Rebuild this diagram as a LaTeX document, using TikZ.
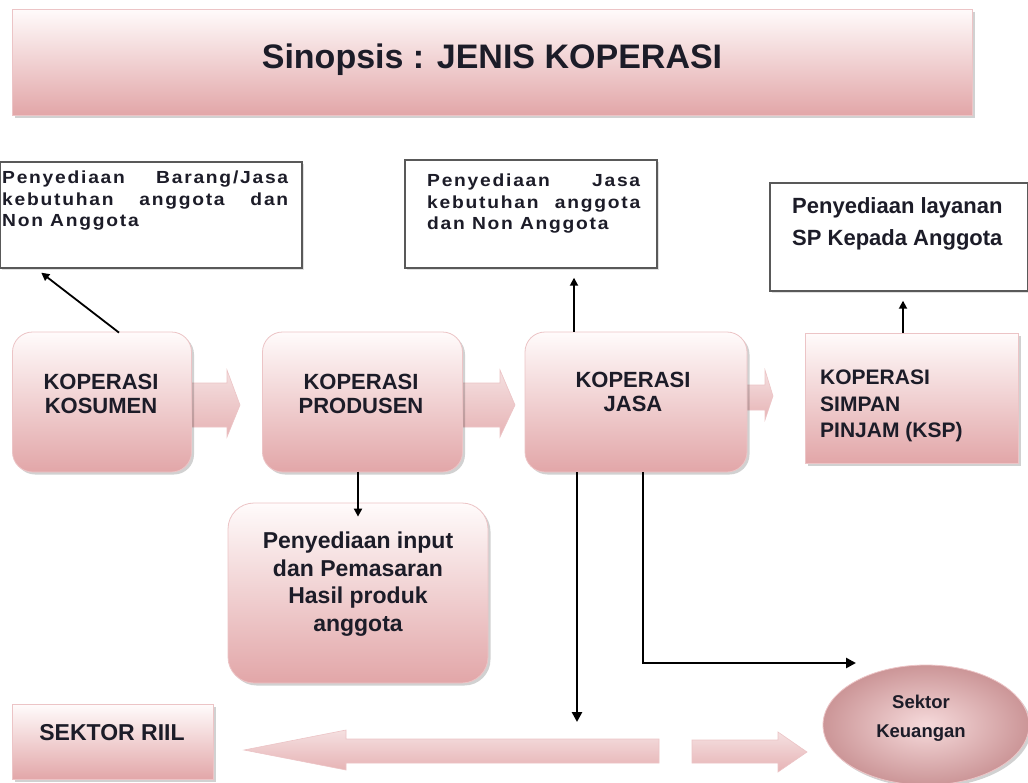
\documentclass[tikz,border=0pt]{standalone}
\usepackage{fontspec}
\setmainfont{Liberation Sans}
\newfontfamily\descfont[LetterSpace=10,FakeStretch=1.1]{Liberation Sans Bold}
\usetikzlibrary{shadows,arrows.meta,shapes.geometric,calc}
\definecolor{pinkd}{RGB}{226,166,168}
\definecolor{pinkl}{RGB}{255,251,251}
\definecolor{pinkb}{RGB}{236,196,198}
\definecolor{ink}{RGB}{28,28,40}
\hyphenpenalty=10000
\exhyphenpenalty=10000
\begin{document}
\begin{tikzpicture}[x=1pt,y=-1pt,
  pinkfill/.style={top color=pinkl, bottom color=pinkd, draw=pinkb, line width=0.8pt},
  shad/.style={drop shadow={shadow xshift=2.5pt, shadow yshift=-2.5pt, fill=black, opacity=0.18}},
  kopbox/.style={pinkfill, shad, rounded corners=20pt, inner sep=0pt},
  sqbox/.style={pinkfill, shad, inner sep=0pt},
  wbox/.style={draw=black!65, line width=1.4pt, fill=white, inner sep=0pt, drop shadow={shadow xshift=2pt, shadow yshift=-2pt, fill=black, opacity=0.12}},
  koptext/.style={font=\bfseries\fontsize{22}{24}\selectfont, text=ink, align=center, inner sep=0pt},
  desctext/.style={font=\descfont\fontsize{17.5}{21.5}\selectfont, text=ink, inner sep=0pt, align=justify},
  bigtext/.style={font=\bfseries\fontsize{22}{32}\selectfont, text=ink, inner sep=0pt, align=left},
  conn/.style={draw=black, line width=1.8pt, -{Triangle[length=8pt,width=8pt]}},
  thickconn/.style={draw=black, line width=2.6pt, -{Triangle[length=10pt,width=10pt]}},
  blockarrow/.style={top color=pinkd!35, bottom color=pinkd!85, draw=pinkb, line width=0.6pt}
]
\useasboundingbox (0,0) rectangle (1028,782);
\fill[white] (0,0) rectangle (1028,782);

% title
\node[sqbox, minimum width=960pt, minimum height=106pt] (title) at (492,62) {};
\node[font=\bfseries\fontsize{34}{40}\selectfont, text=ink] (titleT) at (492,60) {Sinopsis : JENIS KOPERASI};

% block arrows (behind boxes)
\path[blockarrow] (186,383) -- (227,383) -- (227,370) -- (240,405) -- (227,437) -- (227,427) -- (186,427) -- cycle;
\path[blockarrow] (458,383) -- (500,383) -- (500,370) -- (515,405) -- (500,437) -- (500,427) -- (458,427) -- cycle;
\path[blockarrow] (742,385) -- (765,385) -- (765,370) -- (773,396) -- (765,420) -- (765,410) -- (742,410) -- cycle;
\path[blockarrow] (659,739) -- (346,739) -- (346,730) -- (244,750) -- (346,770) -- (346,763) -- (659,763) -- cycle;
\path[blockarrow] (692,740) -- (778,740) -- (778,732) -- (807,752) -- (778,772) -- (778,763) -- (692,763) -- cycle;

% white description boxes
\node[wbox, minimum width=302pt, minimum height=106pt] (boxA) at (151,215) {};
\node[desctext, text width=286pt, anchor=north west] (boxAT) at (2,171) {Penyediaan Barang/Jasa kebutuhan anggota dan Non Anggota};
\node[wbox, minimum width=252pt, minimum height=108pt] (boxB) at (531,214) {};
\node[desctext, text width=213pt, anchor=north west] (boxBT) at (427,174) {Penyediaan Jasa kebutuhan anggota dan Non Anggota};
\node[wbox, minimum width=258pt, minimum height=108pt] (boxC) at (899,237) {};
\node[bigtext, anchor=north west] (boxCT) at (792,197) {Penyediaan layanan\\SP Kepada Anggota};

% koperasi boxes
\node[kopbox, minimum width=179pt, minimum height=140pt] (kosumen) at (102,402) {};
\node[koptext] (kosumenT) at (101,394) {KOPERASI\\KOSUMEN};
\node[kopbox, minimum width=200pt, minimum height=140pt] (produsen) at (362.5,402) {};
\node[koptext] (produsenT) at (361,394) {KOPERASI\\PRODUSEN};
\node[kopbox, minimum width=222pt, minimum height=140pt] (jasa) at (636,402) {};
\node[koptext] (jasaT) at (633,392) {KOPERASI\\JASA};
\node[sqbox, minimum width=213pt, minimum height=130pt] (ksp) at (911.5,398) {};
\node[koptext, align=left, anchor=north west, font=\bfseries\fontsize{21}{26.5}\selectfont] (kspT) at (820,370) {KOPERASI\\SIMPAN\\PINJAM (KSP)};

% input box
\node[kopbox, rounded corners=26pt, minimum width=260pt, minimum height=180pt] (input) at (358,593) {};
\node[koptext, font=\bfseries\fontsize{23}{27.7}\selectfont] (inputT) at (358,584) {Penyediaan input\\dan Pemasaran\\Hasil produk\\anggota};

% bottom row
\node[sqbox, minimum width=201pt, minimum height=75pt] (riil) at (113,742) {};
\node[koptext, font=\bfseries\fontsize{23}{26}\selectfont] (riilT) at (112,733) {SEKTOR RIIL};
\node[ellipse, minimum width=206pt, minimum height=120pt, draw=pinkb, line width=0.8pt,
      inner color={rgb,255:red,246;green,218;blue,219}, outer color=pinkd!90!black, shad] (keu) at (926,725) {};
\node[koptext, font=\bfseries\fontsize{18.5}{29}\selectfont] (keuT) at (921,718) {Sektor\\Keuangan};

% connectors
\coordinate (jdown) at (577,722);
\coordinate (keuIn) at (856,663);
\draw[conn] ($(kosumen.north)+(17,1)$) -- ($(boxA.south west)+(42,4)$);
\draw[conn] ($(jasa.north)+(-62,0)$) -- ($(boxB.south)+(43,9)$);
\draw[conn] ($(ksp.north)+(-8.5,0)$) -- ($(boxC.south)+(4,9)$);
\draw[conn] ($(produsen.north)+(-4.5,140)$) -- ($(input.north)+(0,14)$);
\draw[thickconn] ($(jasa.south)+(-59,0)$) -- (jdown);
\draw[thickconn] ($(jasa.south)+(7,0)$) |- (keuIn);
\end{tikzpicture}
\end{document}
